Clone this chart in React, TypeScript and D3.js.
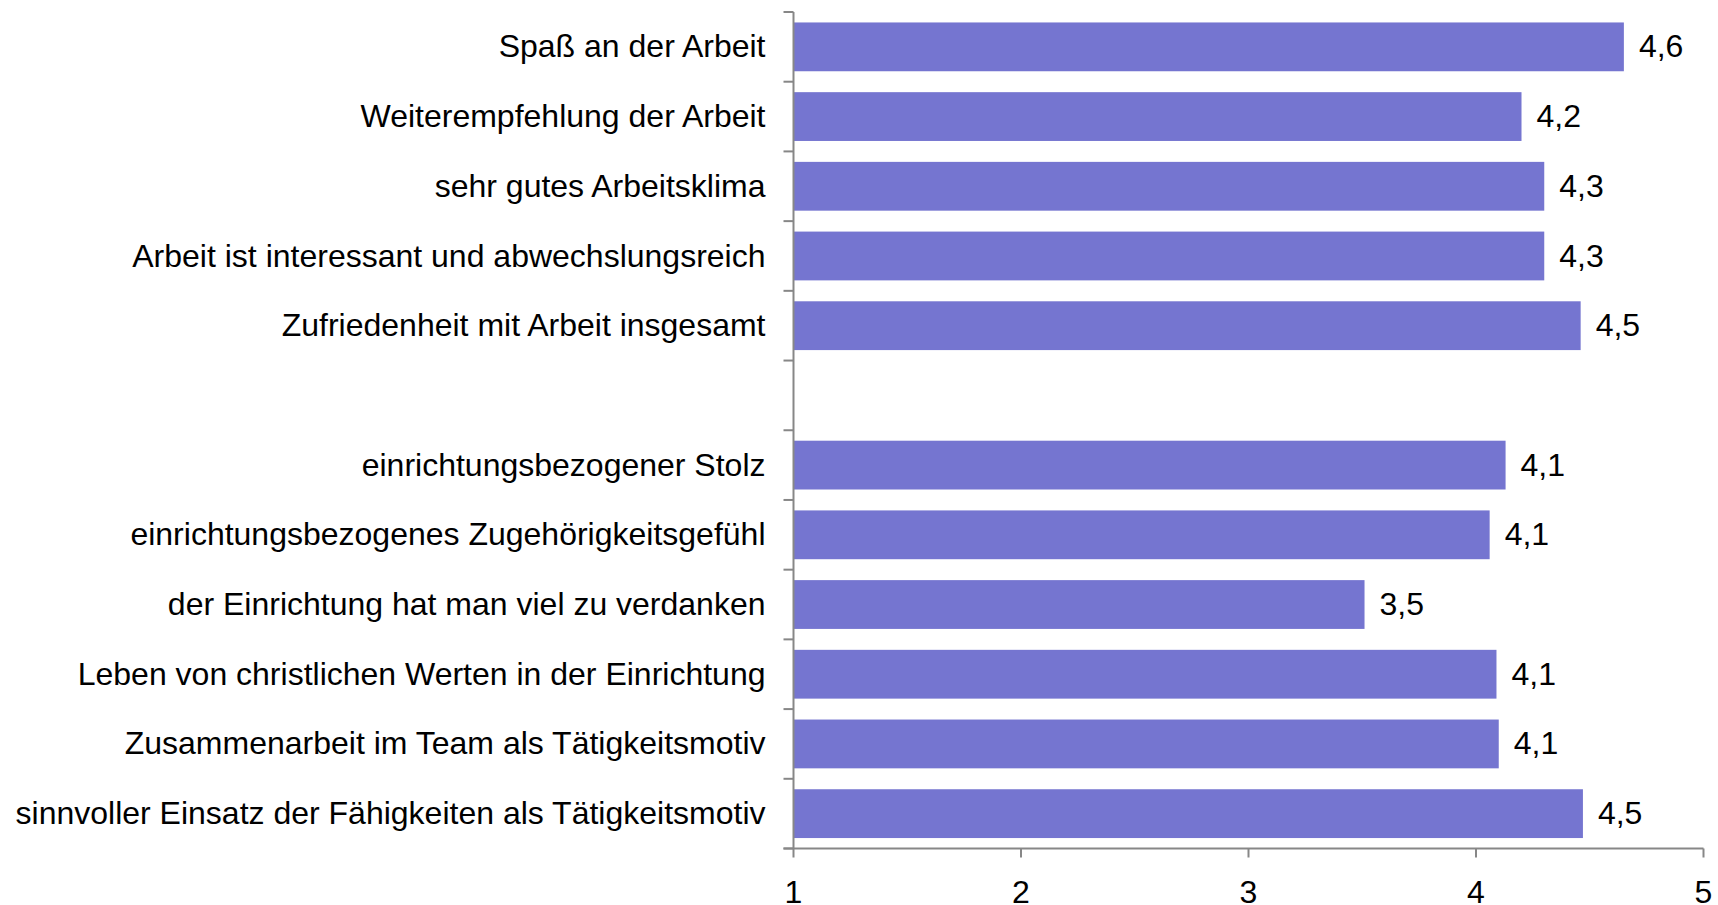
import React, { useEffect, useRef } from "react";
import * as d3 from "d3";

// categories from top to bottom; "" is the empty spacer row between the two groups
const categories = [
  "Spaß an der Arbeit",
  "Weiterempfehlung der Arbeit",
  "sehr gutes Arbeitsklima",
  "Arbeit ist interessant und abwechslungsreich",
  "Zufriedenheit mit Arbeit insgesamt",
  "",
  "einrichtungsbezogener Stolz",
  "einrichtungsbezogenes Zugehörigkeitsgefühl",
  "der Einrichtung hat man viel zu verdanken",
  "Leben von christlichen Werten in der Einrichtung",
  "Zusammenarbeit im Team als Tätigkeitsmotiv",
  "sinnvoller Einsatz der Fähigkeiten als Tätigkeitsmotiv",
];
const values = [4.65, 4.2, 4.3, 4.3, 4.46, null, 4.13, 4.06, 3.51, 4.09, 4.1, 4.47];
const valueLabels = ["4,6", "4,2", "4,3", "4,3", "4,5", "", "4,1", "4,1", "3,5", "4,1", "4,1", "4,5"];
const xTicks = [1, 2, 3, 4, 5];

export default function App() {
  const svgRef = useRef<SVGSVGElement>(null);

  useEffect(() => {
    const w = 1718;
    const h = 905;
    const svg = d3.select(svgRef.current).attr("width", w).attr("height", h);
    svg.selectAll("*").remove();

    const left = 793.5;
    const right = 1703.5;
    const top = 12;
    const bottom = 848.5;
    const font = "'Liberation Sans', Arial, sans-serif";
    const fontSize = "32px";
    const axisColor = "#878787";

    const x = d3.scaleLinear().domain([1, 5]).range([left, right]);
    const y = d3
      .scaleBand<number>()
      .domain(categories.map((_, i) => i))
      .range([top, bottom])
      .paddingInner(0.3)
      .paddingOuter(0.15);

    const rows = categories.map((c, i) => ({ c, v: values[i], lab: valueLabels[i], i }));
    const filled = rows.filter((d) => d.v != null);

    // bars
    svg
      .append("g")
      .selectAll("rect")
      .data(filled)
      .join("rect")
      .attr("x", x(1))
      .attr("y", (d) => y(d.i)!)
      .attr("width", (d) => x(d.v as number) - x(1))
      .attr("height", y.bandwidth())
      .attr("fill", "#7575D0");

    // value labels
    svg
      .append("g")
      .selectAll("text")
      .data(filled)
      .join("text")
      .attr("x", (d) => x(d.v as number) + 15)
      .attr("y", (d) => y(d.i)! + y.bandwidth() / 2)
      .attr("dy", "0.33em")
      .style("font-family", font)
      .style("font-size", fontSize)
      .attr("fill", "#000")
      .text((d) => d.lab);

    // category labels
    svg
      .append("g")
      .selectAll("text")
      .data(rows.filter((d) => d.c !== ""))
      .join("text")
      .attr("x", left - 28)
      .attr("y", (d) => y(d.i)! + y.bandwidth() / 2)
      .attr("dy", "0.33em")
      .attr("text-anchor", "end")
      .style("font-family", font)
      .style("font-size", fontSize)
      .attr("fill", "#000")
      .text((d) => d.c);

    // y axis line + tick marks at band boundaries
    const step = y.step();
    const yAxis = svg.append("g").attr("stroke", axisColor).attr("stroke-width", 2);
    yAxis
      .append("line")
      .attr("x1", left)
      .attr("x2", left)
      .attr("y1", top)
      .attr("y2", bottom);
    yAxis
      .selectAll("line.tick")
      .data(d3.range(categories.length + 1))
      .join("line")
      .attr("class", "tick")
      .attr("x1", left - 10)
      .attr("x2", left)
      .attr("y1", (i) => top + i * step)
      .attr("y2", (i) => top + i * step);

    // x axis
    const xAxis = svg.append("g").attr("stroke", axisColor).attr("stroke-width", 2);
    xAxis
      .append("line")
      .attr("x1", left - 10)
      .attr("x2", right)
      .attr("y1", bottom)
      .attr("y2", bottom);
    xAxis
      .selectAll("line.tick")
      .data(xTicks)
      .join("line")
      .attr("class", "tick")
      .attr("x1", (d) => x(d))
      .attr("x2", (d) => x(d))
      .attr("y1", bottom)
      .attr("y2", bottom + 9);

    svg
      .append("g")
      .selectAll("text")
      .data(xTicks)
      .join("text")
      .attr("x", (d) => x(d))
      .attr("y", 903)
      .attr("text-anchor", "middle")
      .style("font-family", font)
      .style("font-size", fontSize)
      .attr("fill", "#000")
      .text((d) => d);
  }, []);

  return (
    <div style={{ position: "absolute", left: 0, top: 0, background: "#fff" }}>
      <svg ref={svgRef} style={{ display: "block" }}></svg>
    </div>
  );
}
